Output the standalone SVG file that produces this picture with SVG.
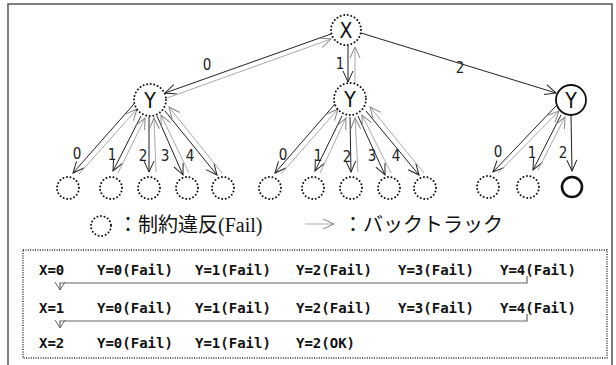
<svg xmlns="http://www.w3.org/2000/svg" width="616" height="365" viewBox="0 0 616 365">
<style>
.dot{fill:none;stroke:#111;stroke-width:2;stroke-dasharray:0 3.6;stroke-linecap:round}
.solid{fill:none;stroke:#111;stroke-width:1.8}
.solidleaf{fill:none;stroke:#111;stroke-width:2.6}
.nl{font-family:"DejaVu Sans Condensed","DejaVu Sans",sans-serif;font-stretch:condensed;font-size:21px;fill:#111;text-anchor:middle}
.el{font-family:"DejaVu Sans Condensed","DejaVu Sans",sans-serif;font-stretch:condensed;font-size:15px;fill:#222;text-anchor:middle}
.fw{stroke:#222;stroke-width:1;fill:none;marker-end:url(#ab)}
.bk{stroke:#aaa;stroke-width:1;fill:none;marker-end:url(#ag)}
.bt{font-family:"DejaVu Sans Mono","Liberation Mono",monospace;font-weight:bold;font-size:14px;fill:#111}
.lg{font-family:"Noto Sans CJK JP","Noto Sans CJK SC",sans-serif;font-size:20px;fill:#111}
.bl{stroke:#666;stroke-width:1.2;fill:none;marker-end:url(#ad)}
</style>
<defs>
<marker id="ab" markerUnits="userSpaceOnUse" markerWidth="14" markerHeight="12" refX="11" refY="5" orient="auto" overflow="visible"><path d="M0,0 L11,5 L0,10" fill="none" stroke="#222" stroke-width="1"/></marker>
<marker id="ag" markerUnits="userSpaceOnUse" markerWidth="14" markerHeight="12" refX="11" refY="5" orient="auto" overflow="visible"><path d="M0,0 L11,5 L0,10" fill="none" stroke="#888" stroke-width="1"/></marker>
<marker id="ad" markerUnits="userSpaceOnUse" markerWidth="12" markerHeight="12" refX="8" refY="5" orient="auto" overflow="visible"><path d="M0,0 L8,5 L0,10" fill="none" stroke="#666" stroke-width="1"/></marker>
</defs>
<rect x="8" y="4" width="604" height="380" fill="#fff" stroke="#555" stroke-width="1.5"/>

<g id="connectors">
<line class="fw" x1="331" y1="34" x2="165" y2="93"/>
<line class="bk" x1="167" y1="98" x2="331" y2="39"/>
<line class="fw" x1="348" y1="46" x2="348" y2="82"/>
<line class="bk" x1="355" y1="84" x2="355" y2="47"/>
<line class="fw" x1="361" y1="33" x2="556" y2="93"/>

<line class="fw" x1="134" y1="104" x2="73" y2="173"/>
<line class="bk" x1="79" y1="174" x2="137" y2="109"/>
<line class="fw" x1="141" y1="116" x2="113" y2="171"/>
<line class="bk" x1="118" y1="173" x2="145" y2="118"/>
<line class="fw" x1="149" y1="117" x2="149" y2="172"/>
<line class="bk" x1="156" y1="172" x2="154" y2="118"/>
<line class="fw" x1="157" y1="116" x2="183" y2="175"/>
<line class="bk" x1="189" y1="173" x2="161" y2="115"/>
<line class="fw" x1="165" y1="111" x2="217" y2="175"/>
<line class="bk" x1="222" y1="173" x2="169" y2="107"/>

<line class="fw" x1="335" y1="104" x2="275" y2="173"/>
<line class="bk" x1="281" y1="174" x2="338" y2="109"/>
<line class="fw" x1="342" y1="116" x2="315" y2="171"/>
<line class="bk" x1="320" y1="173" x2="346" y2="118"/>
<line class="fw" x1="350" y1="117" x2="351" y2="172"/>
<line class="bk" x1="358" y1="172" x2="355" y2="118"/>
<line class="fw" x1="358" y1="116" x2="385" y2="175"/>
<line class="bk" x1="391" y1="173" x2="362" y2="115"/>
<line class="fw" x1="366" y1="111" x2="419" y2="175"/>
<line class="bk" x1="424" y1="173" x2="370" y2="107"/>

<line class="fw" x1="556" y1="106" x2="493" y2="172"/>
<line class="bk" x1="498" y1="173" x2="559" y2="111"/>
<line class="fw" x1="561" y1="115" x2="533" y2="170"/>
<line class="bk" x1="538" y1="170" x2="565" y2="117"/>
<line class="fw" x1="571" y1="116" x2="572" y2="171"/>

<line class="bk" x1="305" y1="224" x2="334" y2="224"/>

<path class="bl" d="M527,276 V283 H60 V290"/>
<path class="bl" d="M527,314 V321 H60 V328"/>
</g>

<g id="edge-labels">
<text class="el" x="207" y="70">0</text>
<text class="el" x="340" y="69">1</text>
<text class="el" x="460" y="73">2</text>
<text class="el" x="77" y="159">0</text>
<text class="el" x="112" y="160">1</text>
<text class="el" x="143" y="161">2</text>
<text class="el" x="165" y="161">3</text>
<text class="el" x="190" y="161">4</text>
<text class="el" x="283" y="160">0</text>
<text class="el" x="318" y="161">1</text>
<text class="el" x="347" y="162">2</text>
<text class="el" x="372" y="161">3</text>
<text class="el" x="396" y="161">4</text>
<text class="el" x="498" y="157">0</text>
<text class="el" x="532" y="158">1</text>
<text class="el" x="563" y="158">2</text>
</g>

<g id="node-x"><circle class="dot" cx="346" cy="30" r="15"/><text class="nl" x="346" y="38">X</text></g>
<g id="node-y0"><circle class="dot" cx="150" cy="100" r="16"/><text class="nl" x="150" y="108">Y</text></g>
<g id="node-y1"><circle class="dot" cx="350" cy="99" r="16"/><text class="nl" x="350" y="107">Y</text></g>
<g id="node-y2"><circle class="solid" cx="571" cy="100" r="15"/><text class="nl" x="571" y="108">Y</text></g>

<g id="leaf-a0"><circle class="dot" cx="68" cy="188" r="11"/></g>
<g id="leaf-a1"><circle class="dot" cx="111" cy="188" r="11"/></g>
<g id="leaf-a2"><circle class="dot" cx="149" cy="188" r="11"/></g>
<g id="leaf-a3"><circle class="dot" cx="187" cy="188" r="11"/></g>
<g id="leaf-a4"><circle class="dot" cx="223" cy="188" r="11"/></g>
<g id="leaf-b0"><circle class="dot" cx="270" cy="188" r="11"/></g>
<g id="leaf-b1"><circle class="dot" cx="313" cy="188" r="11"/></g>
<g id="leaf-b2"><circle class="dot" cx="351" cy="188" r="11"/></g>
<g id="leaf-b3"><circle class="dot" cx="389" cy="188" r="11"/></g>
<g id="leaf-b4"><circle class="dot" cx="425" cy="188" r="11"/></g>
<g id="leaf-c0"><circle class="dot" cx="488" cy="187" r="11"/></g>
<g id="leaf-c1"><circle class="dot" cx="528" cy="187" r="11"/></g>
<g id="leaf-c2"><circle class="solidleaf" cx="572" cy="187" r="10"/></g>

<g id="legend">
<circle class="dot" cx="101" cy="226" r="10"/>
<text class="lg" x="118" y="232">：制約違反<tspan font-family="Liberation Serif,serif">(Fail)</tspan></text>
<text class="lg" x="343" y="232">：バックトラック</text>
</g>

<g id="trace">
<rect x="23" y="250" width="584" height="108" fill="none" stroke="#222" stroke-width="1.4" stroke-dasharray="1 1.4"/>
<text class="bt" x="39" y="275">X=0</text>
<text class="bt" x="97" y="275">Y=0(Fail)</text>
<text class="bt" x="195" y="275">Y=1(Fail)</text>
<text class="bt" x="296" y="275">Y=2(Fail)</text>
<text class="bt" x="398" y="275">Y=3(Fail)</text>
<text class="bt" x="500" y="275">Y=4(Fail)</text>
<text class="bt" x="39" y="313">X=1</text>
<text class="bt" x="97" y="313">Y=0(Fail)</text>
<text class="bt" x="195" y="313">Y=1(Fail)</text>
<text class="bt" x="296" y="313">Y=2(Fail)</text>
<text class="bt" x="398" y="313">Y=3(Fail)</text>
<text class="bt" x="500" y="313">Y=4(Fail)</text>
<text class="bt" x="39" y="348">X=2</text>
<text class="bt" x="97" y="348">Y=0(Fail)</text>
<text class="bt" x="195" y="348">Y=1(Fail)</text>
<text class="bt" x="296" y="348">Y=2(OK)</text>
</g>
</svg>
